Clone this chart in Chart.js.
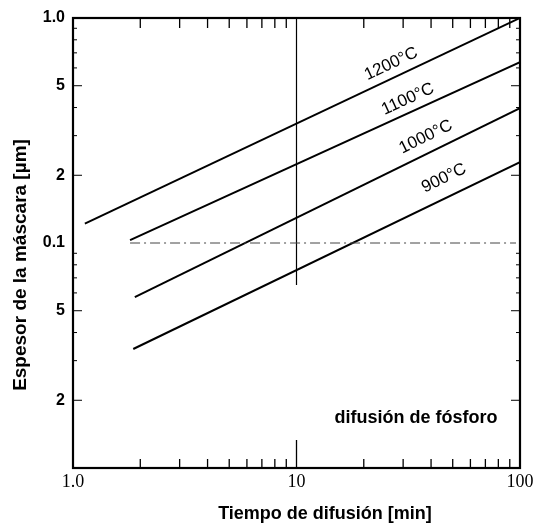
<!DOCTYPE html>
<html>
<head>
<meta charset="utf-8">
<script src="https://cdn.jsdelivr.net/npm/chart.js@4.4.1/dist/chart.umd.min.js"></script>
<style>
  html, body { margin: 0; padding: 0; background: #fff; }
  #wrap { width: 534px; height: 524px; }
</style>
</head>
<body>
<div id="wrap"><canvas id="chart" width="534" height="524"></canvas></div>
<script>
// series: [time (min), thickness (um)] end points of each straight line
const temps = ["1200°C", "1100°C", "1000°C", "900°C"];
const lineTimes = [[1.13, 100], [1.8, 100], [1.89, 100], [1.86, 100]];
const lineThick = [[0.122, 1.0], [0.103, 0.637], [0.0575, 0.398], [0.0338, 0.229]];
// where the temperature labels sit (data coords)
const labelTimes = [26.5, 31.5, 37.9, 45.7];
const labelThick = [0.625, 0.436, 0.296, 0.194];

const xTickValues = [1, 10, 100];
const xTickLabels = ["1.0", "10", "100"];
const yTickValues = [1, 0.5, 0.2, 0.1, 0.05, 0.02, 0.01];
const yTickLabels = ["1.0", "5", "2", "0.1", "5", "2", ""];
const minorSteps = [2, 3, 4, 5, 6, 7, 8, 9];

const xTitle = "Tiempo de difusión [min]";
const yTitle = "Espesor de la máscara [µm]";
const note = "difusión de fósforo";

const datasets = temps.map((t, i) => ({
  label: t,
  data: lineTimes[i].map((x, j) => ({ x: x, y: lineThick[i][j] })),
  showLine: true,
  borderColor: "#000",
  borderWidth: 2,
  pointRadius: 0,
  fill: false
}));

const decorPlugin = {
  id: "decor",
  afterDatasetsDraw(chart) {
    const ctx = chart.ctx;
    const a = chart.chartArea;
    const xs = chart.scales.x, ys = chart.scales.y;
    ctx.save();
    ctx.strokeStyle = "#000";

    // vertical line at 10 min
    ctx.lineWidth = 1.2;
    ctx.beginPath();
    ctx.moveTo(xs.getPixelForValue(10), a.top);
    ctx.lineTo(xs.getPixelForValue(10), ys.getPixelForValue(0.065));
    ctx.stroke();

    // dash-dot line at 0.1
    ctx.lineWidth = 1;
    ctx.strokeStyle = "#444";
    ctx.setLineDash([10, 4, 2, 4]);
    ctx.beginPath();
    ctx.moveTo(xs.getPixelForValue(1.8), ys.getPixelForValue(0.1));
    ctx.lineTo(a.right - 4, ys.getPixelForValue(0.1));
    ctx.stroke();
    ctx.setLineDash([]);
    ctx.strokeStyle = "#000";

    // inward ticks, top and bottom
    ctx.lineWidth = 1.3;
    [1, 10].forEach(dec => {
      minorSteps.forEach(m => {
        const px = xs.getPixelForValue(m * dec);
        ctx.beginPath();
        ctx.moveTo(px, a.top); ctx.lineTo(px, a.top + 10);
        ctx.moveTo(px, a.bottom); ctx.lineTo(px, a.bottom - 9);
        ctx.stroke();
      });
    });
    const p10 = xs.getPixelForValue(10);
    ctx.beginPath();
    ctx.moveTo(p10, a.bottom); ctx.lineTo(p10, a.bottom - 28);
    ctx.stroke();

    // inward ticks, left and right
    ctx.lineWidth = 1;
    [0.01, 0.1].forEach(dec => {
      minorSteps.forEach(m => {
        const py = ys.getPixelForValue(m * dec);
        const len = (m === 2 || m === 5) ? 9 : 4;
        ctx.beginPath();
        ctx.moveTo(a.left, py); ctx.lineTo(a.left + len, py);
        ctx.moveTo(a.right, py); ctx.lineTo(a.right - len, py);
        ctx.stroke();
      });
    });

    // frame
    ctx.lineWidth = 2.2;
    ctx.strokeRect(a.left, a.top, a.right - a.left, a.bottom - a.top);

    // temperature labels along the lines
    ctx.fillStyle = "#000";
    ctx.font = "17px 'Liberation Sans', Arial, sans-serif";
    ctx.textAlign = "center";
    ctx.textBaseline = "middle";
    temps.forEach((t, i) => {
      const d = chart.getDatasetMeta(i).data;
      const ang = Math.atan2(d[1].y - d[0].y, d[1].x - d[0].x);
      ctx.save();
      ctx.translate(xs.getPixelForValue(labelTimes[i]), ys.getPixelForValue(labelThick[i]));
      ctx.rotate(ang);
      ctx.fillText(t, 0, 0);
      ctx.restore();
    });

    // note and axis titles
    ctx.font = "bold 18px 'Liberation Sans', Arial, sans-serif";
    ctx.fillText(note, a.right - 104, a.bottom - 50);

    ctx.font = "bold 18px 'Liberation Sans', Arial, sans-serif";
    ctx.fillText(xTitle, 325, 514);

    ctx.save();
    ctx.translate(21, 265);
    ctx.rotate(-Math.PI / 2);
    ctx.font = "bold 19px 'Liberation Sans', Arial, sans-serif";
    ctx.fillText(yTitle, 0, 0);
    ctx.restore();

    ctx.restore();
  }
};

new Chart(document.getElementById("chart"), {
  type: "scatter",
  data: { datasets: datasets },
  options: {
    responsive: false,
    animation: false,
    layout: { padding: { top: 18, right: 14, left: 0, bottom: 0 } },
    plugins: { legend: { display: false }, tooltip: { enabled: false } },
    scales: {
      x: {
        type: "logarithmic",
        min: 1, max: 100,
        afterFit: s => { s.height = 56; s.paddingRight = 0; s.paddingLeft = 0; },
        afterBuildTicks: s => { s.ticks = xTickValues.map(v => ({ value: v })); },
        grid: { display: false, drawTicks: false },
        border: { display: false },
        ticks: {
          autoSkip: false, maxRotation: 0, padding: 3, color: "#000",
          font: { family: "'Liberation Serif', serif", size: 18 },
          callback: (v) => xTickLabels[xTickValues.indexOf(v)]
        }
      },
      y: {
        type: "logarithmic",
        min: 0.01, max: 1,
        afterFit: s => { s.width = 73; },
        afterBuildTicks: s => { s.ticks = yTickValues.map(v => ({ value: v })); },
        grid: { display: false, drawTicks: false },
        border: { display: false },
        ticks: {
          autoSkip: false, padding: 8, color: "#000",
          font: { family: "'Liberation Sans', Arial, sans-serif", size: 16, weight: "bold" },
          callback: (v) => yTickLabels[yTickValues.indexOf(v)]
        }
      }
    }
  },
  plugins: [decorPlugin]
});
</script>
</body>
</html>
